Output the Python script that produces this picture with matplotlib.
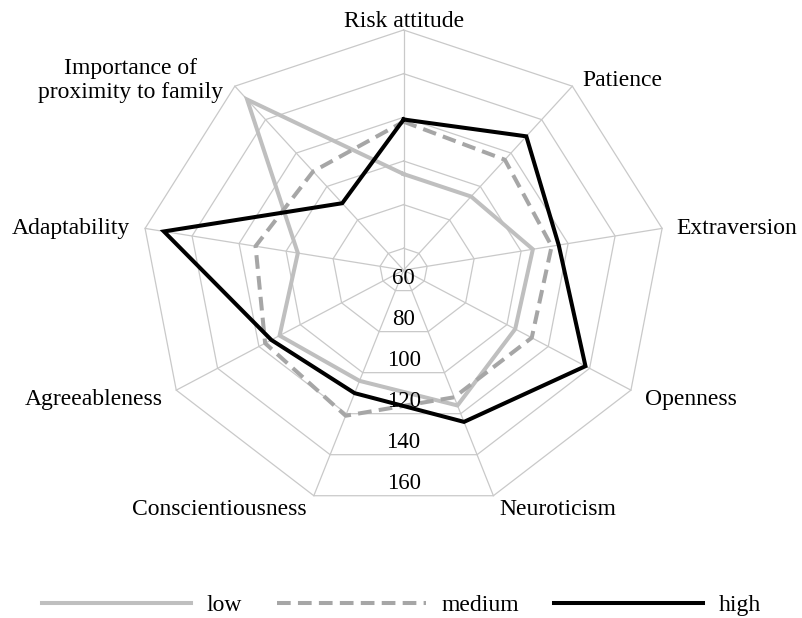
import numpy as np
import matplotlib
matplotlib.use("Agg")
import matplotlib.pyplot as plt

plt.rcParams['font.family'] = ['Liberation Serif', 'DejaVu Serif']

categories = ["Risk attitude", "Patience", "Extraversion", "Openness", "Neuroticism",
              "Conscientiousness", "Agreeableness", "Adaptability",
              "Importance of\nproximity to family"]
low = [94, 94, 105, 104, 116, 104, 110, 95, 152]
medium = [118, 116, 113, 112, 112, 121, 117, 113, 109]
high = [119, 130, 116, 138, 124, 110, 114, 152, 90]
series_names = ["low", "medium", "high"]
ring_ticks = [60, 80, 100, 120, 140, 160]
r_min, r_max = 50, 160

n = len(categories)
theta = np.arange(n) * 2 * np.pi / n
theta_c = np.append(theta, theta[0])

fig = plt.figure(figsize=(8.03, 6.18), dpi=100)
ax = fig.add_axes([141.1 / 803, 107.8 / 618, 525 / 803, 480.2 / 618], projection='polar')
ax.set_aspect('auto')
ax.set_theta_zero_location('N')
ax.set_theta_direction(-1)
ax.set_ylim(r_min, r_max)
ax.grid(False)
ax.set_xticks([])
ax.set_yticks([])
ax.spines['polar'].set_visible(False)
ax.patch.set_visible(False)

gc = '#c9c9c9'
for v in ring_ticks:
    ax.plot(theta_c, [v] * (n + 1), color=gc, lw=0.9, zorder=1, clip_on=False)
for t in theta:
    ax.plot([t, t], [r_min, r_max], color=gc, lw=0.9, zorder=1, clip_on=False)

def close(vals):
    return list(vals) + [vals[0]]

l1, = ax.plot(theta_c, close(low), color='#bfbfbf', lw=2.9, zorder=3, clip_on=False,
              solid_joinstyle='miter')
l2, = ax.plot(theta_c, close(medium), color='#a6a6a6', lw=2.9, zorder=4, clip_on=False,
              linestyle=(0, (3.4, 1.8)), dash_capstyle='butt', solid_joinstyle='miter')
l3, = ax.plot(theta_c, close(high), color='black', lw=2.9, zorder=5, clip_on=False,
              solid_joinstyle='miter')

# ring value labels along the bottom
cos_half = np.cos(np.pi / n)
for v in ring_ticks:
    r_edge = r_min + (v - r_min) * cos_half
    ax.annotate(str(v), xy=(np.pi, r_edge), xytext=(0, 1.0), textcoords='offset points',
                ha='center', va='bottom', fontsize=16.5, zorder=6, annotation_clip=False)

# category labels
px = 0.72
label_style = [
    ('center', 'bottom', 0, -2),
    ('left', 'bottom', 10, -5),
    ('left', 'center', 14, 0),
    ('left', 'center', 14, -9),
    ('left', 'top', 6, -3),
    ('right', 'top', -7, -3),
    ('right', 'center', -14, -9),
    ('right', 'center', -15, 0),
    ('right', 'center', -12, 6),
]
for t, lab, (ha, va, dx, dy) in zip(theta, categories, label_style):
    ax.annotate(lab, xy=(t, r_max), xytext=(dx * px, dy * px), textcoords='offset points',
                ha=ha, va=va, fontsize=17, multialignment='center', annotation_clip=False)

fig.legend([l1, l2, l3], series_names, loc='center', bbox_to_anchor=(0.5, 1 - 605 / 618),
           ncol=3, frameon=False, handlelength=6.3, columnspacing=1.5, handletextpad=0.65,
           fontsize=17)

fig.savefig('out.png', dpi=100)
